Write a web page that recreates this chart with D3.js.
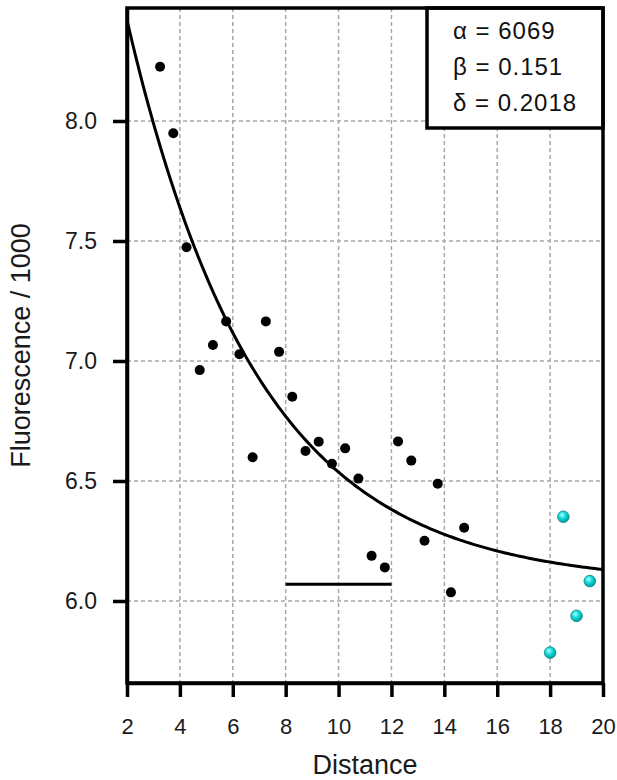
<!DOCTYPE html>
<html>
<head>
<meta charset="utf-8">
<script src="https://cdn.jsdelivr.net/npm/d3@7/dist/d3.min.js"></script>
<style>
  html, body { margin: 0; padding: 0; background: #fff; }
  svg { display: block; font-family: "Liberation Sans", Arial, sans-serif; }
</style>
</head>
<body>
<svg id="chart" width="617" height="780"></svg>
<script>
// Measured fluorescence (thousands) against distance
const distances = [3.25, 3.75, 4.25, 4.75, 5.25, 5.75, 6.25, 6.75, 7.25, 7.75, 8.25, 8.75,
                   9.25, 9.75, 10.25, 10.75, 11.25, 11.75, 12.25, 12.75, 13.25, 13.75, 14.25, 14.75];
const fluorescence = [8.226, 7.949, 7.474, 6.962, 7.067, 7.165, 7.028, 6.599, 7.165, 7.038, 6.851, 6.625,
                      6.664, 6.572, 6.636, 6.510, 6.188, 6.140, 6.665, 6.585, 6.251, 6.489, 6.036, 6.305];

// Points left out of the fit
const excludedDistances = [18.0, 18.5, 19.0, 19.5];
const excludedFluorescence = [5.785, 6.351, 5.938, 6.083];

// Fitted model parameters
const alpha = 6069;
const beta = 0.151;
const delta = 0.2018;
const amplitude = 3520;

// Reference bar
const barRange = [8, 12];
const barLevel = 6.07;

const xTicks = [2, 4, 6, 8, 10, 12, 14, 16, 18, 20];
const yTicks = [6.0, 6.5, 7.0, 7.5, 8.0];

const svg = d3.select("#chart");
const L = 127, R = 603, T = 8, B = 683;

const x = d3.scaleLinear().domain([2, 20]).range([L, R]);
const y = d3.scaleLinear().domain([5.6583, 8.4708]).range([B, T]);

// Grid
const grid = svg.append("g")
  .attr("stroke", "#a8a8a8").attr("stroke-width", 1.5).attr("stroke-dasharray", "4,3");
grid.selectAll("line.v").data(xTicks.filter(d => d > 2 && d < 20)).join("line")
  .attr("x1", d => x(d)).attr("x2", d => x(d)).attr("y1", T).attr("y2", B);
grid.selectAll("line.h").data(yTicks).join("line")
  .attr("y1", d => y(d)).attr("y2", d => y(d)).attr("x1", L).attr("x2", R);

// Parameter box
const boxLeft = 427, boxBottom = 128;
svg.append("rect")
  .attr("x", boxLeft).attr("y", T).attr("width", R - boxLeft).attr("height", boxBottom - T)
  .attr("fill", "#fff").attr("stroke", "#000").attr("stroke-width", 3.5);
const params = [["\u03B1", alpha], ["\u03B2", beta], ["\u03B4", delta]];
svg.append("g").selectAll("text").data(params).join("text")
  .attr("x", 453).attr("y", (d, i) => 39 + i * 36)
  .attr("font-size", 24).attr("letter-spacing", "1px").attr("fill", "#111")
  .text(d => `${d[0]} = ${d[1]}`);

// Fitted curve
const curveX = d3.range(2, 20.001, 0.1);
const fit = d => (alpha + amplitude * Math.exp(-delta * d)) / 1000;
svg.append("path")
  .datum(curveX)
  .attr("fill", "none").attr("stroke", "#000").attr("stroke-width", 3)
  .attr("d", d3.line().x(d => x(d)).y(d => y(fit(d))));

// Reference bar
svg.append("line")
  .attr("x1", x(barRange[0])).attr("x2", x(barRange[1]))
  .attr("y1", y(barLevel)).attr("y2", y(barLevel))
  .attr("stroke", "#000").attr("stroke-width", 3);

// Fitted points
svg.append("g").selectAll("circle").data(distances).join("circle")
  .attr("cx", d => x(d)).attr("cy", (d, i) => y(fluorescence[i]))
  .attr("r", 5).attr("fill", "#000");

// Excluded points (shaded spheres)
const defs = svg.append("defs");
const grad = defs.append("radialGradient").attr("id", "cyanBall")
  .attr("cx", "40%").attr("cy", "35%").attr("r", "65%");
grad.append("stop").attr("offset", "0%").attr("stop-color", "#b8ffff");
grad.append("stop").attr("offset", "45%").attr("stop-color", "#14dcdc");
grad.append("stop").attr("offset", "100%").attr("stop-color", "#009c9c");
svg.append("g").selectAll("circle").data(excludedDistances).join("circle")
  .attr("cx", d => x(d)).attr("cy", (d, i) => y(excludedFluorescence[i]))
  .attr("r", 5.8).attr("fill", "url(#cyanBall)")
  .attr("stroke", "#0a7f7f").attr("stroke-width", 0.8);

// Frame
svg.append("path")
  .attr("d", `M${L},${B}V${T}H${R}V${B}Z`)
  .attr("fill", "none").attr("stroke", "#000").attr("stroke-width", 3.5);

// Axes
const xAxis = svg.append("g").attr("transform", `translate(0,${B})`)
  .call(d3.axisBottom(x).tickValues(xTicks).tickFormat(d3.format("d"))
    .tickSize(14).tickSizeOuter(0).tickPadding(21));
const yAxis = svg.append("g").attr("transform", `translate(${L},0)`)
  .call(d3.axisLeft(y).tickValues(yTicks).tickFormat(d3.format(".1f"))
    .tickSize(14).tickSizeOuter(0).tickPadding(16));
[xAxis, yAxis].forEach(a => {
  a.select(".domain").attr("stroke-width", 3.5);
  a.selectAll(".tick line").attr("stroke-width", 3.5);
  a.selectAll(".tick text").attr("fill", "#1a1a1a").attr("font-family", "Liberation Sans, Arial, sans-serif");
});
xAxis.selectAll(".tick text").attr("font-size", 22);
yAxis.selectAll(".tick text").attr("font-size", 23);

// Axis titles
svg.append("text")
  .attr("x", (L + R) / 2).attr("y", 774)
  .attr("text-anchor", "middle").attr("font-size", 27).attr("fill", "#1a1a1a")
  .text("Distance");
svg.append("text")
  .attr("transform", `translate(30,${(T + B) / 2}) rotate(-90)`)
  .attr("text-anchor", "middle").attr("font-size", 27).attr("fill", "#1a1a1a")
  .text("Fluorescence / 1000");
</script>
</body>
</html>
